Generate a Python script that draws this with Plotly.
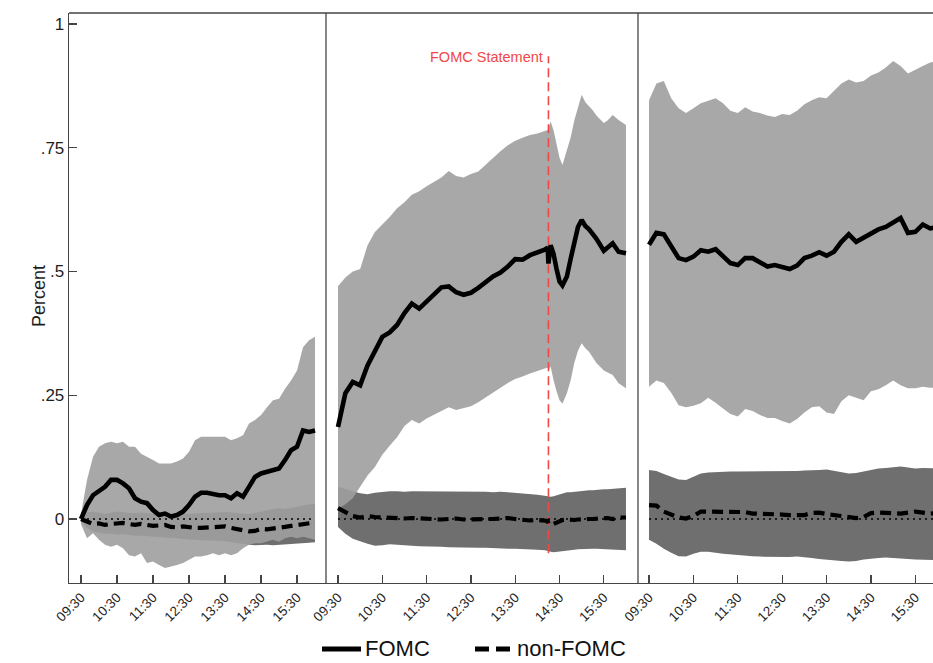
import plotly.graph_objects as go

# ---------------- data ----------------
TIMES = ["09:30", "09:40", "09:50", "10:00", "10:10", "10:20", "10:30", "10:40", "10:50", "11:00",
         "11:10", "11:20", "11:30", "11:40", "11:50", "12:00", "12:10", "12:20", "12:30", "12:40",
         "12:50", "13:00", "13:10", "13:20", "13:30", "13:40", "13:50", "14:00", "14:10", "14:20",
         "14:30", "14:40", "14:50", "15:00", "15:10", "15:20", "15:30", "15:40", "15:50", "16:00"]

TIMES_P2 = ["09:30", "09:40", "09:50", "10:00", "10:10", "10:20", "10:30", "10:40", "10:50", "11:00",
            "11:10", "11:20", "11:30", "11:40", "11:50", "12:00", "12:10", "12:20", "12:30", "12:40",
            "12:50", "13:00", "13:10", "13:20", "13:30", "13:40", "13:50", "14:00", "14:10",
            "14:14", "14:15", "14:18", "14:22", "14:26", "14:30", "14:34", "14:40", "14:45", "14:50",
            "14:55", "15:00", "15:05", "15:10", "15:15", "15:20", "15:30", "15:35", "15:42", "15:50", "16:00"]

TICK_LABELS = ["09:30", "10:30", "11:30", "12:30", "13:30", "14:30", "15:30"]
Y_TICKS = [0, 0.25, 0.5, 0.75, 1]
Y_TICK_LABELS = ["0", ".25", ".5", ".75", "1"]
STATEMENT_TIME = "14:15"
SERIES_NAMES = ["FOMC", "non-FOMC"]

# Panel 1 (day before)
P1_FOMC = [0.000, 0.028, 0.048, 0.058, 0.065, 0.079, 0.079, 0.072, 0.062, 0.042,
           0.035, 0.032, 0.018, 0.008, 0.011, 0.005, 0.008, 0.015, 0.028, 0.045,
           0.053, 0.053, 0.050, 0.048, 0.048, 0.042, 0.052, 0.045, 0.065, 0.085,
           0.092, 0.095, 0.099, 0.102, 0.119, 0.139, 0.146, 0.179, 0.176, 0.179]
P1_FOMC_HI = [0.010, 0.079, 0.126, 0.146, 0.153, 0.156, 0.153, 0.156, 0.146, 0.146,
              0.132, 0.126, 0.119, 0.112, 0.112, 0.112, 0.116, 0.122, 0.136, 0.159,
              0.166, 0.166, 0.167, 0.166, 0.166, 0.159, 0.163, 0.169, 0.193, 0.200,
              0.210, 0.226, 0.240, 0.243, 0.263, 0.280, 0.300, 0.347, 0.361, 0.368]
P1_FOMC_LO = [-0.010, -0.039, -0.029, -0.042, -0.052, -0.056, -0.052, -0.059, -0.073, -0.076,
              -0.069, -0.089, -0.086, -0.093, -0.099, -0.096, -0.093, -0.089, -0.083, -0.076,
              -0.076, -0.073, -0.069, -0.073, -0.069, -0.073, -0.069, -0.059, -0.052, -0.049,
              -0.049, -0.046, -0.042, -0.046, -0.039, -0.036, -0.039, -0.036, -0.039, -0.042]
P1_NON = [0.000, -0.006, -0.010, -0.009, -0.012, -0.010, -0.009, -0.008, -0.010, -0.012,
          -0.010, -0.012, -0.014, -0.013, -0.012, -0.016, -0.017, -0.015, -0.017, -0.018,
          -0.018, -0.017, -0.018, -0.016, -0.015, -0.018, -0.020, -0.023, -0.025, -0.024,
          -0.020, -0.021, -0.020, -0.017, -0.016, -0.014, -0.012, -0.009, -0.007, -0.007]
P1_NON_HI = [0.003, 0.013, 0.015, 0.012, 0.010, 0.013, 0.015, 0.014, 0.012, 0.012,
             0.013, 0.012, 0.010, 0.010, 0.012, 0.010, 0.009, 0.010, 0.010, 0.011,
             0.012, 0.012, 0.012, 0.013, 0.014, 0.013, 0.012, 0.010, 0.010, 0.012,
             0.015, 0.018, 0.020, 0.022, 0.020, 0.022, 0.025, 0.028, 0.030, 0.030]
P1_NON_LO = [-0.005, -0.018, -0.025, -0.028, -0.030, -0.030, -0.032, -0.031, -0.032, -0.034,
             -0.034, -0.035, -0.036, -0.036, -0.037, -0.038, -0.040, -0.040, -0.041, -0.042,
             -0.043, -0.043, -0.044, -0.044, -0.045, -0.046, -0.048, -0.050, -0.052, -0.053,
             -0.053, -0.052, -0.053, -0.052, -0.051, -0.050, -0.050, -0.049, -0.048, -0.047]

# Panel 2 (FOMC day)
P2_FOMC = [0.186, 0.254, 0.277, 0.270, 0.310, 0.340, 0.368, 0.377, 0.392, 0.416,
           0.435, 0.425, 0.440, 0.455, 0.468, 0.470, 0.458, 0.453, 0.457, 0.467,
           0.480, 0.490, 0.498, 0.510, 0.525, 0.524, 0.533, 0.538, 0.544,
           0.548, 0.516, 0.553, 0.535, 0.505, 0.480, 0.472, 0.490, 0.525, 0.560,
           0.590, 0.604, 0.592, 0.585, 0.577, 0.566, 0.542, 0.548, 0.557, 0.540, 0.537]
P2_FOMC_HI = [0.470, 0.488, 0.500, 0.505, 0.553, 0.580, 0.595, 0.610, 0.628, 0.640,
              0.655, 0.662, 0.672, 0.681, 0.690, 0.703, 0.693, 0.690, 0.697, 0.702,
              0.716, 0.728, 0.743, 0.755, 0.764, 0.770, 0.776, 0.779, 0.784,
              0.786, 0.790, 0.803, 0.785, 0.760, 0.730, 0.715, 0.745, 0.770, 0.805,
              0.830, 0.857, 0.842, 0.835, 0.826, 0.815, 0.800, 0.805, 0.816, 0.806, 0.796]
P2_FOMC_LO = [0.020, 0.030, 0.042, 0.065, 0.088, 0.105, 0.130, 0.148, 0.165, 0.188,
              0.200, 0.193, 0.203, 0.211, 0.218, 0.226, 0.220, 0.224, 0.228, 0.236,
              0.246, 0.255, 0.265, 0.275, 0.283, 0.288, 0.294, 0.300, 0.304,
              0.306, 0.300, 0.308, 0.280, 0.258, 0.240, 0.233, 0.254, 0.280, 0.315,
              0.340, 0.355, 0.345, 0.338, 0.328, 0.315, 0.300, 0.296, 0.291, 0.274, 0.264]
P2_NON = [0.022, 0.015, 0.006, 0.003, 0.006, 0.004, 0.003, 0.003, 0.002, 0.001,
          0.002, 0.001, 0.001, 0.000, -0.001, 0.000, 0.001, -0.001, 0.000, -0.001,
          0.000, 0.000, 0.002, 0.002, 0.000, -0.002, -0.003, -0.002, -0.003,
          -0.004, -0.010, -0.011, -0.010, -0.007, -0.003, -0.002, -0.001, -0.002, -0.002,
          -0.001, 0.000, -0.001, 0.000, 0.000, 0.001, 0.001, 0.002, 0.000, 0.003, 0.003]
P2_NON_HI = [0.065, 0.060, 0.056, 0.052, 0.050, 0.053, 0.055, 0.056, 0.056, 0.055,
             0.056, 0.056, 0.056, 0.055, 0.056, 0.056, 0.055, 0.056, 0.055, 0.056,
             0.055, 0.054, 0.055, 0.054, 0.053, 0.052, 0.050, 0.049, 0.047,
             0.046, 0.045, 0.045, 0.046, 0.048, 0.050, 0.052, 0.054, 0.054, 0.055,
             0.056, 0.057, 0.057, 0.058, 0.058, 0.059, 0.060, 0.060, 0.061, 0.062, 0.063]
P2_NON_LO = [-0.016, -0.030, -0.040, -0.045, -0.050, -0.054, -0.053, -0.051, -0.052, -0.053,
             -0.054, -0.055, -0.055, -0.056, -0.056, -0.057, -0.058, -0.058, -0.058, -0.058,
             -0.058, -0.059, -0.059, -0.060, -0.060, -0.060, -0.061, -0.062, -0.063,
             -0.064, -0.065, -0.066, -0.067, -0.067, -0.066, -0.066, -0.064, -0.063, -0.062,
             -0.061, -0.060, -0.060, -0.060, -0.060, -0.060, -0.061, -0.061, -0.061, -0.062, -0.063]

# Panel 3 (day after)
P3_FOMC = [0.554, 0.578, 0.575, 0.550, 0.527, 0.523, 0.530, 0.543, 0.540, 0.545,
           0.530, 0.517, 0.513, 0.527, 0.527, 0.518, 0.510, 0.513, 0.508, 0.505,
           0.512, 0.527, 0.532, 0.539, 0.532, 0.540, 0.560, 0.575, 0.560, 0.568,
           0.578, 0.585, 0.590, 0.598, 0.608, 0.578, 0.580, 0.595, 0.587, 0.590]
P3_FOMC_HI = [0.846, 0.880, 0.885, 0.850, 0.830, 0.820, 0.830, 0.840, 0.845, 0.850,
              0.840, 0.825, 0.820, 0.832, 0.823, 0.820, 0.815, 0.812, 0.818, 0.816,
              0.825, 0.838, 0.846, 0.852, 0.850, 0.865, 0.880, 0.888, 0.882, 0.885,
              0.896, 0.902, 0.912, 0.925, 0.915, 0.900, 0.908, 0.915, 0.922, 0.925]
P3_FOMC_LO = [0.267, 0.280, 0.275, 0.255, 0.230, 0.226, 0.229, 0.234, 0.245, 0.235,
              0.223, 0.212, 0.207, 0.222, 0.218, 0.210, 0.204, 0.204, 0.198, 0.193,
              0.202, 0.215, 0.226, 0.228, 0.215, 0.212, 0.238, 0.250, 0.245, 0.240,
              0.258, 0.262, 0.270, 0.280, 0.270, 0.264, 0.264, 0.267, 0.265, 0.265]
P3_NON = [0.028, 0.027, 0.015, 0.009, 0.003, 0.001, 0.006, 0.015, 0.015, 0.013,
          0.013, 0.014, 0.015, 0.014, 0.011, 0.011, 0.010, 0.009, 0.009, 0.008,
          0.008, 0.008, 0.012, 0.013, 0.010, 0.008, 0.006, 0.003, 0.002, 0.004,
          0.012, 0.013, 0.012, 0.011, 0.011, 0.013, 0.015, 0.013, 0.011, 0.012]
P3_NON_HI = [0.099, 0.097, 0.091, 0.086, 0.080, 0.079, 0.085, 0.092, 0.094, 0.095,
             0.095, 0.096, 0.096, 0.096, 0.096, 0.096, 0.096, 0.096, 0.097, 0.097,
             0.097, 0.098, 0.098, 0.099, 0.100, 0.097, 0.094, 0.092, 0.093, 0.096,
             0.099, 0.102, 0.103, 0.105, 0.106, 0.104, 0.102, 0.103, 0.102, 0.102]
P3_NON_LO = [-0.042, -0.050, -0.060, -0.068, -0.075, -0.076, -0.070, -0.066, -0.066, -0.068,
             -0.070, -0.072, -0.073, -0.074, -0.075, -0.076, -0.076, -0.076, -0.077, -0.077,
             -0.076, -0.077, -0.079, -0.081, -0.083, -0.084, -0.085, -0.086, -0.085, -0.082,
             -0.080, -0.079, -0.078, -0.079, -0.080, -0.081, -0.082, -0.083, -0.083, -0.083]


# ---------------- figure ----------------
def to_min(s):
    h, m = s.split(":")
    return (int(h) - 9) * 60 + int(m) - 30


W, H = 933, 663
FONT = "Liberation Sans, Arial, sans-serif"
AX = "#454545"
TXT = "#1e1e1e"
LIGHT = "rgba(158,158,158,0.9)"
DARK = "#6f6f6f"
RED = "#f04848"
FOMC_W = 4.6
NON_W = 4.2
NON_DASH = "11px,6px"

panels = [
    (TIMES, P1_FOMC, P1_FOMC_HI, P1_FOMC_LO, P1_NON, P1_NON_HI, P1_NON_LO),
    (TIMES_P2, P2_FOMC, P2_FOMC_HI, P2_FOMC_LO, P2_NON, P2_NON_HI, P2_NON_LO),
    (TIMES, P3_FOMC, P3_FOMC_HI, P3_FOMC_LO, P3_NON, P3_NON_HI, P3_NON_LO),
]

fig = go.Figure()
for i, (times, fomc, fhi, flo, non, nhi, nlo) in enumerate(panels):
    xa = "x" if i == 0 else f"x{i+1}"
    ya = "y" if i == 0 else f"y{i+1}"
    x = [to_min(t) for t in times]
    fig.add_trace(go.Scatter(x=x + x[::-1], y=nhi + nlo[::-1], fill="toself", fillcolor=DARK,
                             mode="lines", line=dict(width=0, color="rgba(0,0,0,0)"),
                             hoverinfo="skip", showlegend=False, xaxis=xa, yaxis=ya))
    fig.add_trace(go.Scatter(x=x + x[::-1], y=fhi + flo[::-1], fill="toself", fillcolor=LIGHT,
                             mode="lines", line=dict(width=0, color="rgba(0,0,0,0)"),
                             hoverinfo="skip", showlegend=False, xaxis=xa, yaxis=ya))
    if i == 1:
        st = to_min(STATEMENT_TIME)
        fig.add_trace(go.Scatter(x=[st, st], y=[-0.069, 0.935], mode="lines",
                                 line=dict(color=RED, width=1.6, dash="9px,5px"),
                                 hoverinfo="skip", showlegend=False, xaxis=xa, yaxis=ya))
    fig.add_trace(go.Scatter(x=[x[0], x[-1]], y=[0, 0], mode="lines",
                             line=dict(color="black", width=1.6, dash="2px,4px"),
                             hoverinfo="skip", showlegend=False, xaxis=xa, yaxis=ya))
    fig.add_trace(go.Scatter(x=x, y=non, mode="lines", name=SERIES_NAMES[1],
                             line=dict(color="black", width=NON_W, dash=NON_DASH),
                             showlegend=False, xaxis=xa, yaxis=ya))
    fig.add_trace(go.Scatter(x=x, y=fomc, mode="lines", name=SERIES_NAMES[0],
                             line=dict(color="black", width=FOMC_W),
                             showlegend=False, xaxis=xa, yaxis=ya))

px = lambda v: v / W
py = lambda v: (H - v) / H
YR = [-(583 - 519) / 495, (519 - 13) / 495]
XRANGES = [[-20, 408.3], [-16.25, 406.3], [-14.9, 383.8]]
DOMS = [[px(69), px(326)], [px(326), px(638)], [px(638), 1.0]]
tickvals = [to_min(t) for t in TICK_LABELS]

layout = dict(
    width=W, height=H, autosize=False,
    margin=dict(l=0, r=0, t=0, b=0),
    paper_bgcolor="white", plot_bgcolor="white",
    font=dict(family=FONT, color=TXT),
    showlegend=False,
)
for i in range(3):
    sx = "" if i == 0 else str(i + 1)
    layout["xaxis" + sx] = dict(
        domain=DOMS[i], range=XRANGES[i], anchor="y" + sx,
        tickvals=tickvals, ticktext=TICK_LABELS, tickangle=-45,
        ticks="inside", ticklen=8, tickwidth=1.2, tickcolor=AX,
        showline=True, linecolor=AX, linewidth=1.3, showgrid=False, zeroline=False,
        tickfont=dict(size=13.5, color=TXT), automargin=False, fixedrange=True,
    )
    if i == 0:
        layout["yaxis"] = dict(
            domain=[py(583), py(13)], range=YR, anchor="x",
            tickvals=Y_TICKS, ticktext=Y_TICK_LABELS,
            ticks="inside", ticklen=8, tickwidth=1.2, tickcolor=AX,
            showline=True, linecolor=AX, linewidth=1.3, showgrid=False, zeroline=False,
            tickfont=dict(size=17, color=TXT), automargin=False, fixedrange=True,
        )
    else:
        layout["yaxis" + sx] = dict(domain=[py(583), py(13)], range=YR, anchor="x" + sx,
                                    visible=False, fixedrange=True)

fig.update_layout(**layout)

line_style = dict(color=AX, width=1.3)
fig.add_shape(type="line", xref="paper", yref="paper", x0=px(69), x1=1.0, y0=py(13), y1=py(13),
              line=line_style)
for xs in (326, 638):
    fig.add_shape(type="line", xref="paper", yref="paper", x0=px(xs), x1=px(xs),
                  y0=py(583), y1=py(13), line=line_style)

fig.add_annotation(text="Percent", xref="paper", yref="paper", x=px(27), y=py(296),
                   textangle=-90, showarrow=False, font=dict(size=18, color=TXT))
fig.add_annotation(text="FOMC Statement", xref="x2", yref="y2", x=to_min(STATEMENT_TIME),
                   y=0.933, xanchor="right", yanchor="middle", xshift=-3, showarrow=False,
                   font=dict(size=14.5, color=RED))

# legend (drawn below the panels)
LEG_Y = py(649)
fig.add_shape(type="line", xref="paper", yref="paper", x0=px(322), x1=px(361), y0=LEG_Y, y1=LEG_Y,
              line=dict(color="black", width=5))
fig.add_shape(type="line", xref="paper", yref="paper", x0=px(475), x1=px(511), y0=LEG_Y, y1=LEG_Y,
              line=dict(color="black", width=5, dash="14px,7px"))
fig.add_annotation(text=SERIES_NAMES[0], xref="paper", yref="paper", x=px(364), y=py(648),
                   xanchor="left", yanchor="middle", showarrow=False, borderpad=0,
                   font=dict(size=22, color="#111"))
fig.add_annotation(text=SERIES_NAMES[1], xref="paper", yref="paper", x=px(516), y=py(648),
                   xanchor="left", yanchor="middle", showarrow=False, borderpad=0,
                   font=dict(size=22, color="#111"))

fig.write_html(
    "out.html",
    config={"displayModeBar": False, "staticPlot": True},
    post_script="document.documentElement.style.margin='0';document.body.style.margin='0';"
                "document.body.style.overflow='hidden';",
)
